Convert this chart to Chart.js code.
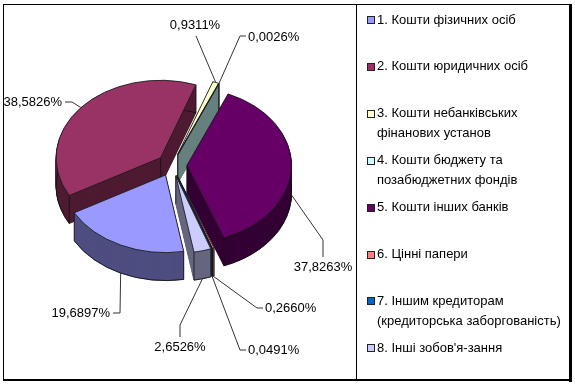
<!DOCTYPE html>
<html>
<head>
<meta charset="utf-8">
<script src="https://cdn.jsdelivr.net/npm/chart.js@4.4.0/dist/chart.umd.min.js"></script>
<style>
  html, body { margin: 0; padding: 0; background: #fff; }
</style>
</head>
<body>
<canvas id="pie" width="575" height="385"></canvas>
<script>
// data

const categories = [
  '1. Кошти фізичних осіб',
  '2. Кошти юридичних осіб',
  ['3. Кошти небанківських', 'фінанових установ'],
  ['4. Кошти бюджету та', 'позабюджетних фондів'],
  '5. Кошти інших банків',
  '6. Цінні папери',
  ['7. Іншим кредиторам', '(кредиторська заборгованість)'],
  "8. Інші зобов'я-зання"
];

const shares = [19.6897, 38.5826, 0.9311, 0.0026, 37.8263, 0.2660, 0.0491, 2.6526];

const colors = ['#9999FF', '#993366', '#FFFFCC', '#CCFFFF', '#660066', '#FF8080', '#0066CC', '#CCCCFF'];

// 3d look

const CX = 172, CY = 165;
const TILT = 0.742;
const DEPTH = 28;
const EXPLODE = 15;
const FONT = '13px "Liberation Sans", Arial, sans-serif';

// where each percentage label sits and how its leader line bends
const labelLayout = [
  { x: 110, y: 313, align: 'right',  path: [[113, 313], [120, 313]] },
  { x: 62,  y: 102, align: 'right',  path: [[65, 102], [72, 102]] },
  { x: 195, y: 25,  align: 'center', path: [[196, 36]] },
  { x: 248, y: 37,  align: 'left',   path: [[246, 36], [240, 36]] },
  { x: 323, y: 267, align: 'center', path: [[323, 257], [323, 240]] },
  { x: 265, y: 308, align: 'left',   path: [[263, 308], [257, 308]] },
  { x: 248, y: 350, align: 'left',   path: [[246, 350], [240, 350]] },
  { x: 180, y: 347, align: 'center', path: [[180, 337], [180, 325]] }
];

function shade(hex, f) {
  const n = parseInt(hex.slice(1), 16);
  const r = Math.round(((n >> 16) & 255) * f);
  const g = Math.round(((n >> 8) & 255) * f);
  const b = Math.round((n & 255) * f);
  return `rgb(${r}, ${g}, ${b})`;
}

function geom(arc) {
  const p = arc.getProps(['x', 'y', 'startAngle', 'endAngle', 'outerRadius']);
  p.mid = (p.startAngle + p.endAngle) / 2;
  p.ex = Math.cos(p.mid) * EXPLODE;
  p.ey = Math.sin(p.mid) * EXPLODE;
  return p;
}

function place(ctx, g, d) {
  ctx.translate(CX, CY + d);
  ctx.scale(1, TILT);
  ctx.translate(g.ex - g.x, g.ey - g.y);
}

function toScreen(g, px, py, d) {
  return [CX + g.ex + px - g.x, CY + d + TILT * (g.ey + py - g.y)];
}

const pie3d = {
  id: 'pie3d',
  beforeDatasetsDraw(chart) {
    const ctx = chart.ctx;
    const items = chart.getDatasetMeta(0).data.map((arc, i) => ({ arc, i, g: geom(arc) }));
    items.sort((a, b) => Math.sin(a.g.mid) - Math.sin(b.g.mid));

    items.forEach(({ arc, i, g }) => {
      const side = shade(colors[i], 0.5);
      const R = g.outerRadius;

      // extruded body, bottom layer first
      for (let d = DEPTH; d >= 1; d--) {
        ctx.save();
        place(ctx, g, d);
        ctx.beginPath();
        ctx.moveTo(g.x, g.y);
        ctx.arc(g.x, g.y, R, g.startAngle, g.endAngle);
        ctx.closePath();
        ctx.fillStyle = side;
        ctx.fill();
        ctx.strokeStyle = side;
        ctx.lineWidth = 1;
        ctx.stroke();
        ctx.restore();
      }

      // bottom rim
      ctx.save();
      place(ctx, g, DEPTH);
      ctx.beginPath();
      ctx.arc(g.x, g.y, R, g.startAngle, g.endAngle);
      ctx.strokeStyle = '#111';
      ctx.lineWidth = 1;
      ctx.stroke();
      ctx.restore();

      // vertical edges
      ctx.save();
      ctx.strokeStyle = '#111';
      ctx.lineWidth = 0.8;
      const pts = [[g.x, g.y],
        [g.x + R * Math.cos(g.startAngle), g.y + R * Math.sin(g.startAngle)],
        [g.x + R * Math.cos(g.endAngle), g.y + R * Math.sin(g.endAngle)]];
      pts.forEach(([px, py]) => {
        const a = toScreen(g, px, py, 0);
        const b = toScreen(g, px, py, DEPTH);
        ctx.beginPath();
        ctx.moveTo(a[0], a[1]);
        ctx.lineTo(b[0], b[1]);
        ctx.stroke();
      });
      ctx.restore();

      // top face, drawn by the element itself
      ctx.save();
      place(ctx, g, 0);
      arc.draw(ctx);
      ctx.restore();
    });
    return false;
  },
  afterDraw(chart) {
    const ctx = chart.ctx;
    const arcs = chart.getDatasetMeta(0).data;

    // frames
    ctx.save();
    ctx.fillStyle = '#000';
    ctx.fillRect(3, 4, 569, 1);
    ctx.fillRect(3, 4, 1, 377);
    ctx.fillRect(356, 4, 1, 377);
    ctx.fillRect(569, 4, 3, 378);
    ctx.fillRect(3, 379, 569, 2);
    ctx.restore();

    // percentage labels with leader lines
    ctx.save();
    ctx.font = FONT;
    ctx.textBaseline = 'middle';
    arcs.forEach((arc, i) => {
      const g = geom(arc);
      const R = g.outerRadius;
      const d = Math.sin(g.mid) > 0 ? DEPTH : 0;
      const anchor = toScreen(g, g.x + R * Math.cos(g.mid), g.y + R * Math.sin(g.mid), d);
      const lay = labelLayout[i];
      ctx.strokeStyle = '#333';
      ctx.lineWidth = 1;
      ctx.beginPath();
      lay.path.forEach(([x, y], k) => k ? ctx.lineTo(x, y) : ctx.moveTo(x, y));
      ctx.lineTo(anchor[0], anchor[1]);
      ctx.stroke();
      ctx.fillStyle = '#000';
      ctx.textAlign = lay.align;
      ctx.fillText(shares[i].toFixed(4).replace('.', ',') + '%', lay.x, lay.y);
    });
    ctx.restore();

    // legend
    ctx.save();
    ctx.font = FONT;
    ctx.textBaseline = 'middle';
    ctx.textAlign = 'left';
    categories.forEach((label, i) => {
      const y = 20 + i * 46.9;
      ctx.fillStyle = colors[i];
      ctx.fillRect(367, Math.round(y) - 4, 8, 8);
      ctx.strokeStyle = '#222';
      ctx.lineWidth = 1;
      ctx.strokeRect(367.5, Math.round(y) - 3.5, 7, 7);
      ctx.fillStyle = '#000';
      [].concat(label).forEach((line, k) => ctx.fillText(line, 377, y + k * 20));
    });
    ctx.restore();
  }
};

new Chart(document.getElementById('pie'), {
  type: 'pie',
  data: {
    labels: categories,
    datasets: [{
      data: shares,
      backgroundColor: colors,
      borderColor: '#1a1a1a',
      borderWidth: 1
    }]
  },
  options: {
    responsive: false,
    animation: false,
    rotation: 170,
    layout: { padding: { left: 67, right: 298, top: 80, bottom: 95 } },
    plugins: {
      legend: { display: false },
      tooltip: { enabled: false }
    }
  },
  plugins: [pie3d]
});
</script>
</body>
</html>
